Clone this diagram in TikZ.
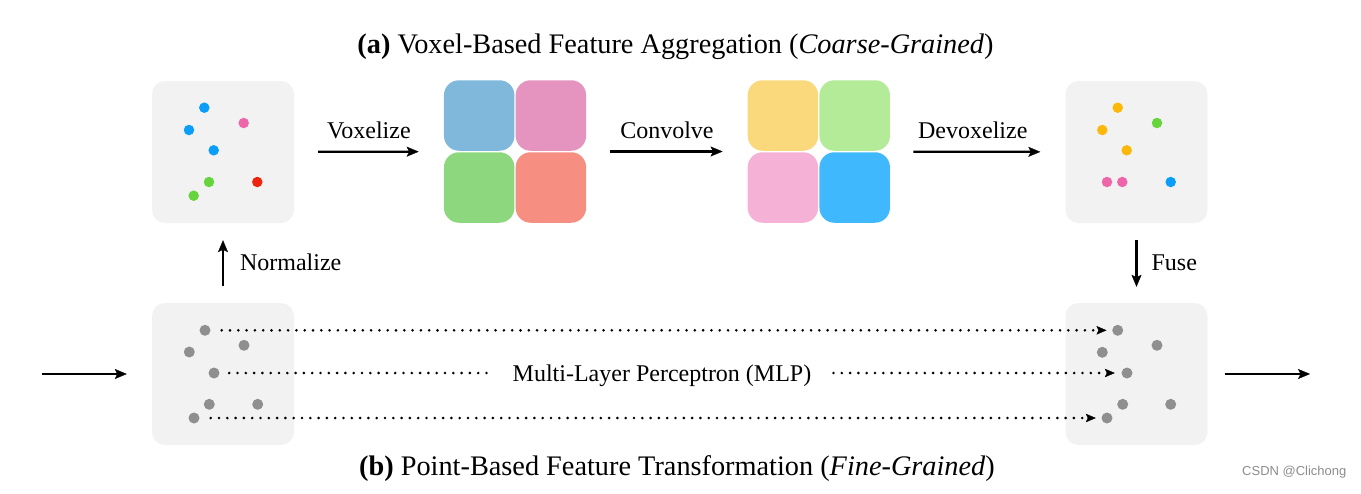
\documentclass[tikz,border=0pt]{standalone}
\usepackage{fontspec}
\setmainfont{Liberation Serif}
\newfontfamily\wmfont{Liberation Sans}
\usetikzlibrary{arrows.meta}
\definecolor{boxgray}{HTML}{F2F2F2}
\definecolor{ptgray}{HTML}{8F8F8F}
\definecolor{dblue}{HTML}{0A9EF8}
\definecolor{dpink}{HTML}{EE66AA}
\definecolor{dred}{HTML}{EE2410}
\definecolor{dgreen}{HTML}{66D43C}
\definecolor{dorange}{HTML}{FBB80A}
\definecolor{vblue}{HTML}{80B8DC}
\definecolor{vpink}{HTML}{E494BE}
\definecolor{vgreen}{HTML}{8DD87E}
\definecolor{vsalmon}{HTML}{F68E82}
\definecolor{cyellow}{HTML}{FAD87C}
\definecolor{cgreen}{HTML}{B3EB99}
\definecolor{cpink}{HTML}{F6B2D6}
\definecolor{cblue}{HTML}{40B8FE}
\begin{document}
\begin{tikzpicture}[x=1pt,y=-1pt,
  panel/.style={draw=none,fill=boxgray,rounded corners=13pt,minimum width=142pt,minimum height=142pt,inner sep=0pt},
  frame/.style={draw=none,minimum width=142.3pt,minimum height=142.7pt,inner sep=0pt},
  voxel/.style={draw=none,fill=#1,rounded corners=15pt,minimum width=70.5pt,minimum height=70.5pt,inner sep=0pt},
  pt/.style={circle,fill=#1,draw=none,inner sep=0pt,minimum size=10.5pt},
  gpt/.style={circle,fill=ptgray,draw=none,inner sep=0pt,minimum size=11pt},
  arr/.style={line width=2.2pt,-{Stealth[length=12pt,width=10pt,inset=2.5pt,line width=0.3pt]}},
  dotline/.style={line width=2.9pt,line cap=round,dash pattern=on 0pt off 8.3pt},
  dotarrow/.style={dotline,-{Stealth[length=10pt,width=8.5pt,inset=2pt,line width=0.3pt]}},
  lab/.style={font=\fontsize{24}{28}\selectfont,inner sep=0pt},
  title/.style={font=\fontsize{28.3}{33}\selectfont,inner sep=0pt,anchor=base}
]
\useasboundingbox (0,0) rectangle (1361,493);

% titles
\node[title] (ta) at (675.5,53) {\textbf{(a)} Voxel-Based Feature Aggregation (\textit{Coarse-Grained})};
\node[title] (tb) at (677,475) {\textbf{(b)} Point-Based Feature Transformation (\textit{Fine-Grained})};

% panels
\node[panel] (tl) at (223,152) {};
\node[panel] (tr) at (1136.5,152) {};
\node[panel] (bl) at (223,374) {};
\node[panel] (br) at (1136.5,374) {};

% voxel grid 1
\node[frame] (g1) at (515,151.5) {};
\node[voxel=vblue] (g1a) at (479.2,115.5) {};
\node[voxel=vpink] (g1b) at (550.9,115.5) {};
\node[voxel=vgreen] (g1c) at (479.2,187.5) {};
\node[voxel=vsalmon] (g1d) at (550.9,187.5) {};

% voxel grid 2
\node[frame] (g2) at (818.9,151.5) {};
\node[voxel=cyellow] (g2a) at (782.9,115.5) {};
\node[voxel=cgreen] (g2b) at (854.7,115.5) {};
\node[voxel=cpink] (g2c) at (782.9,187.5) {};
\node[voxel=cblue] (g2d) at (854.7,187.5) {};

% top-left points
\node[pt=dblue] (a1) at (204.3,107.7) {};
\node[pt=dblue] (a2) at (189,130) {};
\node[pt=dpink] (a3) at (243.7,123) {};
\node[pt=dblue] (a4) at (213.7,150.3) {};
\node[pt=dgreen] (a5) at (209,182) {};
\node[pt=dred] (a6) at (257.3,182) {};
\node[pt=dgreen] (a7) at (193.7,195.7) {};

% top-right points
\node[pt=dorange] (b1) at (1117.7,107.7) {};
\node[pt=dorange] (b2) at (1102.3,130) {};
\node[pt=dgreen] (b3) at (1157,123) {};
\node[pt=dorange] (b4) at (1126.7,150.3) {};
\node[pt=dpink] (b5) at (1107,182) {};
\node[pt=dpink] (b6) at (1122.3,182) {};
\node[pt=dblue] (b7) at (1170.7,182) {};

% bottom-left points
\node[gpt] (p1) at (205,330.3) {};
\node[gpt] (p2) at (189.3,352) {};
\node[gpt] (p3) at (244,345.3) {};
\node[gpt] (p4) at (214,373) {};
\node[gpt] (p5) at (209.3,404.3) {};
\node[gpt] (p6) at (257.7,404.3) {};
\node[gpt] (p7) at (194,418) {};

% bottom-right points
\node[gpt] (q1) at (1117.7,330.3) {};
\node[gpt] (q2) at (1102.3,352.3) {};
\node[gpt] (q3) at (1157,345.3) {};
\node[gpt] (q4) at (1127,373) {};
\node[gpt] (q5) at (1122.7,404.3) {};
\node[gpt] (q6) at (1170.7,404.3) {};
\node[gpt] (q7) at (1107,418) {};

% top arrows
\draw[arr,shorten <=24pt,shorten >=25pt] (tl) -- (g1)
  node[lab,midway,anchor=base,yshift=13pt] {Voxelize};
\draw[arr,shorten <=24pt,shorten >=25pt] (g1) -- (g2)
  node[lab,midway,anchor=base,yshift=13pt] {Convolve};
\draw[arr,shorten <=23pt,shorten >=25pt] (g2) -- (tr)
  node[lab,midway,anchor=base,yshift=13pt,xshift=-5pt] {Devoxelize};

% vertical arrows
\draw[arr,shorten <=17pt,shorten >=17pt] (bl) -- (tl)
  node[lab,midway,anchor=base west,xshift=16pt,yshift=-7pt] {Normalize};
\draw[arr,shorten <=17pt,shorten >=16pt] (tr) -- (br)
  node[lab,midway,anchor=base west,xshift=14pt,yshift=-7pt] {Fuse};

% input / output
\coordinate (in) at (42,374);
\coordinate (out) at (1310,374);
\draw[arr,shorten >=25pt] (in) -- (bl);
\draw[arr,shorten <=17pt] (br) -- (out);

% MLP dotted connections
\node[lab,inner xsep=22pt] (mlp) at (662,376) {Multi-Layer Perceptron (MLP)};
\draw[dotarrow,shorten <=11pt,shorten >=5.5pt] (p1) -- (q1);
\draw[dotline,shorten <=9.5pt] (p4) -- (p4 -| mlp.west);
\draw[dotarrow,shorten >=6.5pt] (q4 -| mlp.east) -- (q4);
\draw[dotarrow,shorten <=11pt,shorten >=5.5pt] (p7) -- (q7);

% watermark
\node[inner sep=0pt,anchor=base west,text=black!45,font=\wmfont\fontsize{13}{15}\selectfont] (wm) at (1242,475) {CSDN @Clichong};
\end{tikzpicture}
\end{document}
